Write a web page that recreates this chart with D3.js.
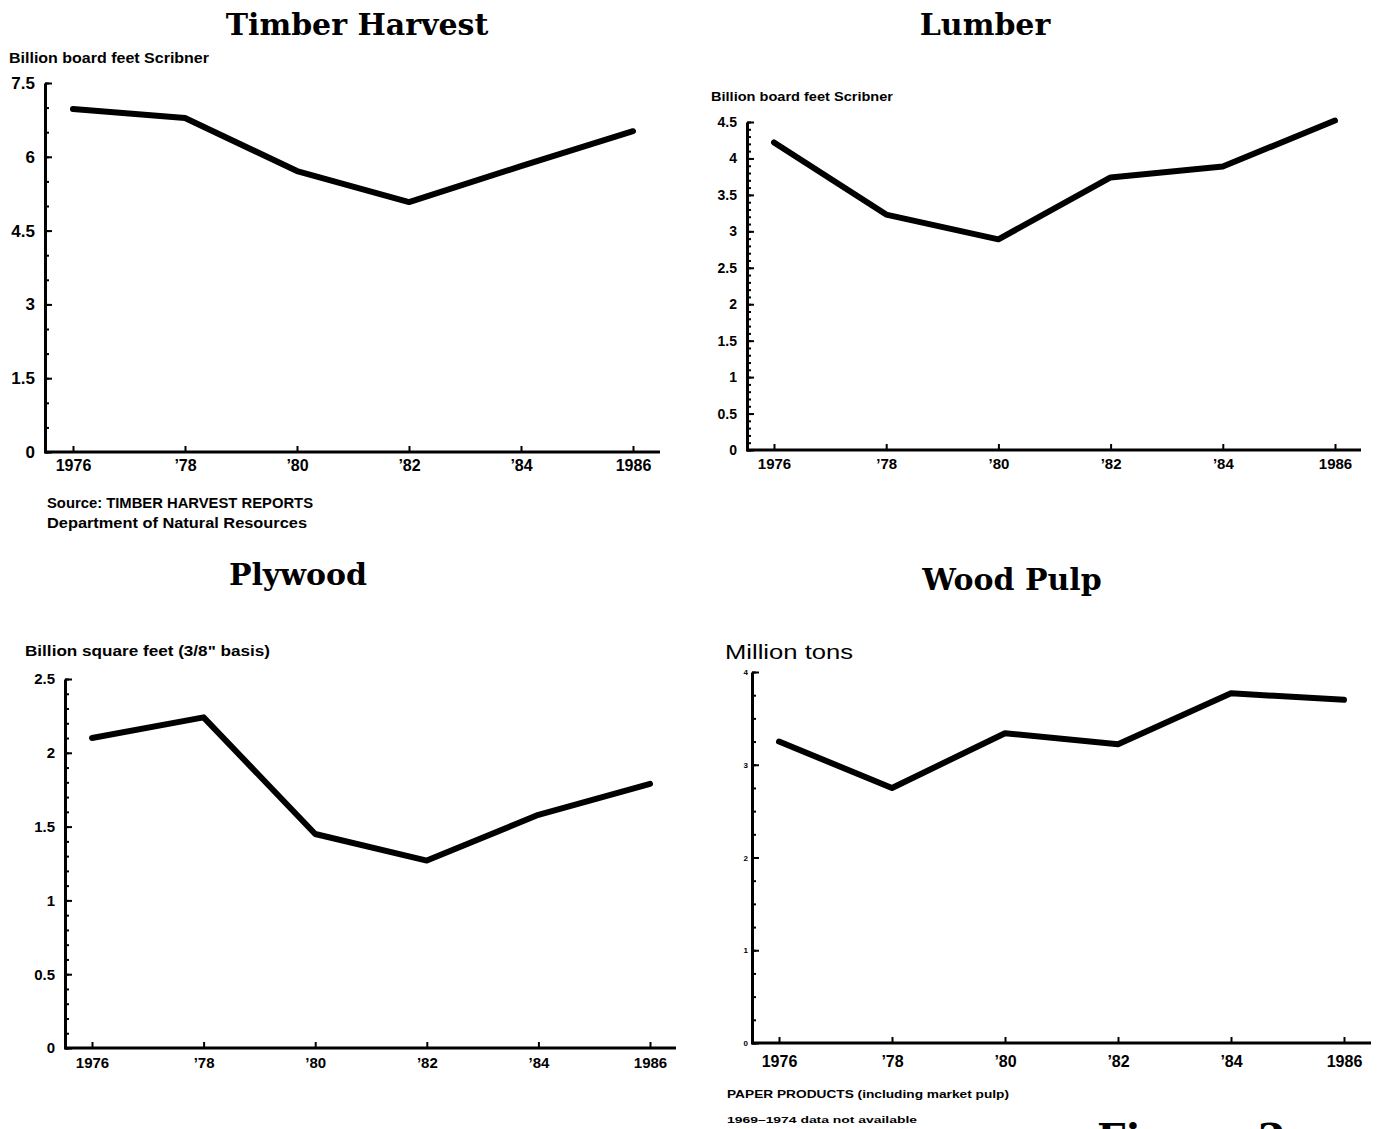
<!DOCTYPE html>
<html>
<head>
<meta charset="utf-8">
<script src="https://cdn.jsdelivr.net/npm/d3@7"></script>
<style>
  body { margin: 0; background: #fff; }
  svg { display: block; }
  .tick text { font-family: "Liberation Sans", Arial, sans-serif; font-weight: bold; fill: #000; }
</style>
</head>
<body>
<script>
// years plotted on every panel
var years = [1976, 1978, 1980, 1982, 1984, 1986];
var yearLabels = ["1976", "\u201978", "\u201980", "\u201982", "\u201984", "1986"];

// series
var timberHarvest = [6.97, 6.79, 5.71, 5.08, 5.81, 6.52];
var lumber = [4.22, 3.23, 2.89, 3.74, 3.89, 4.52];
var plywood = [2.10, 2.24, 1.45, 1.27, 1.58, 1.79];
var woodPulp = [3.25, 2.75, 3.34, 3.22, 3.77, 3.70];

// y tick labels
var timberTicks = [0, 1.5, 3, 4.5, 6, 7.5];
var lumberTicks = [0, 0.5, 1, 1.5, 2, 2.5, 3, 3.5, 4, 4.5];
var plywoodTicks = [0, 0.5, 1, 1.5, 2, 2.5];
var pulpTicks = [0, 1, 2, 3, 4];

window.onload = () => {
    var W = 1379, H = 1129;
    var svg = d3.select("body").append("svg")
        .attr("width", W).attr("height", H);
    svg.append("rect").attr("width", W).attr("height", H).attr("fill", "#fff");

    var panels = [
        { title: "Timber Harvest", tx: 357, ty: 35, values: timberHarvest, ticks: timberTicks, minor: 0.5,
          yMax: 7.5, ax: 45, x0: 73, x1: 633, yb: 452, yt: 83, xEnd: 660, pad: 8, tickFont: 16, yTickFont: 17,
          ylabel: "Billion board feet Scribner", lx: 9, ly: 63, lsize: 14, lw: 200 },
        { title: "Lumber", tx: 985, ty: 35, values: lumber, ticks: lumberTicks, minor: 0.1,
          yMax: 4.5, ax: 747, x0: 774, x1: 1335, yb: 450, yt: 122, xEnd: 1361, pad: 8, tickFont: 15, yTickFont: 14,
          ylabel: "Billion board feet Scribner", lx: 711, ly: 101, lsize: 12, lw: 182 },
        { title: "Plywood", tx: 298, ty: 585, values: plywood, ticks: plywoodTicks, minor: 0.1,
          yMax: 2.5, ax: 65, x0: 92, x1: 650, yb: 1048, yt: 679, xEnd: 676, pad: 9, tickFont: 15, yTickFont: 15,
          ylabel: "Billion square feet (3/8\" basis)", lx: 25, ly: 656, lsize: 14, lw: 245 },
        { title: "Wood Pulp", tx: 1012, ty: 590, values: woodPulp, ticks: pulpTicks, minor: 0.25,
          yMax: 4, ax: 752, x0: 779, x1: 1344, yb: 1043, yt: 672, xEnd: 1371, pad: 13, tickFont: 16, yTickFont: 8,
          smallY: true, ylabel: "Million tons", lx: 725, ly: 659, lsize: 20, lw: 128, regular: true }
    ];

    panels.forEach(function (p) {
        var x = d3.scaleLinear().domain([years[0], years[years.length - 1]]).range([p.x0, p.x1]);
        var y = d3.scaleLinear().domain([0, p.yMax]).range([p.yb, p.yt]);
        var g = svg.append("g");

        // title
        g.append("text")
            .attr("x", p.tx).attr("y", p.ty)
            .attr("text-anchor", "middle")
            .style("font-family", "'DejaVu Serif', serif")
            .style("font-weight", "bold")
            .style("font-size", "30px")
            .text(p.title);

        // y axis caption
        g.append("text")
            .attr("x", p.lx).attr("y", p.ly)
            .attr("textLength", p.lw).attr("lengthAdjust", "spacingAndGlyphs")
            .style("font-family", "'Liberation Sans', Arial, sans-serif")
            .style("font-weight", p.regular ? "normal" : "bold")
            .style("font-size", p.lsize + "px")
            .text(p.ylabel);

        // minor y ticks
        var minorVals = d3.range(0, p.yMax + 1e-9, p.minor);
        g.append("g")
            .attr("transform", "translate(" + p.ax + ",0)")
            .call(d3.axisLeft(y).tickValues(minorVals).tickSize(-4).tickFormat(""))
            .call(function (s) {
                s.select(".domain").remove();
                s.selectAll("line").attr("stroke", "#000").attr("stroke-width", 2);
            });

        // major y ticks + labels
        g.append("g")
            .attr("transform", "translate(" + p.ax + ",0)")
            .call(d3.axisLeft(y).tickValues(p.ticks).tickSize(-7).tickSizeOuter(0).tickPadding(p.smallY ? 4 : 10)
                .tickFormat(function (d) { return String(d); }))
            .call(function (s) {
                s.select(".domain").attr("stroke", "#000").attr("stroke-width", 3);
                s.selectAll("line").attr("stroke", "#000").attr("stroke-width", 2);
                s.selectAll("text").style("font-size", p.yTickFont + "px");
            });

        // x axis baseline
        g.append("line")
            .attr("x1", p.ax - 1).attr("x2", p.xEnd)
            .attr("y1", p.yb).attr("y2", p.yb)
            .attr("stroke", "#000").attr("stroke-width", 3);

        // x ticks + labels
        g.append("g")
            .attr("transform", "translate(0," + p.yb + ")")
            .call(d3.axisBottom(x).tickValues(years).tickSize(-6).tickSizeOuter(0).tickPadding(p.pad)
                .tickFormat(function (d, i) { return yearLabels[i]; }))
            .call(function (s) {
                s.select(".domain").remove();
                s.selectAll("line").attr("stroke", "#000").attr("stroke-width", 2);
                s.selectAll("text").style("font-size", p.tickFont + "px");
            });

        // data line
        var line = d3.line()
            .x(function (d, i) { return x(years[i]); })
            .y(function (d) { return y(d); });
        g.append("path")
            .datum(p.values)
            .attr("d", line)
            .attr("fill", "none")
            .attr("stroke", "#000")
            .attr("stroke-width", 6)
            .attr("stroke-linejoin", "round")
            .attr("stroke-linecap", "round");
    });

    // notes
    var notes = [
        { t: "Source: TIMBER HARVEST REPORTS", x: 47, y: 508, s: 14, w: 266 },
        { t: "Department of Natural Resources", x: 47, y: 528, s: 14, w: 260 },
        { t: "PAPER PRODUCTS (including market pulp)", x: 727, y: 1098, s: 10, w: 282 },
        { t: "1969\u20131974 data not available", x: 727, y: 1123, s: 9, w: 190 }
    ];
    svg.selectAll(".note").data(notes).enter().append("text")
        .attr("class", "note")
        .attr("x", function (d) { return d.x; })
        .attr("y", function (d) { return d.y; })
        .attr("textLength", function (d) { return d.w; })
        .attr("lengthAdjust", "spacingAndGlyphs")
        .style("font-family", "'Liberation Sans', Arial, sans-serif")
        .style("font-weight", "bold")
        .style("font-size", function (d) { return d.s + "px"; })
        .text(function (d) { return d.t; });

    // figure caption, cut off at the page edge as in the scan
    svg.append("text")
        .attr("x", 1097).attr("y", 1152)
        .style("font-family", "'DejaVu Serif', serif")
        .style("font-weight", "bold")
        .style("font-size", "40px")
        .text("Figure 2");
};
</script>
</body>
</html>
